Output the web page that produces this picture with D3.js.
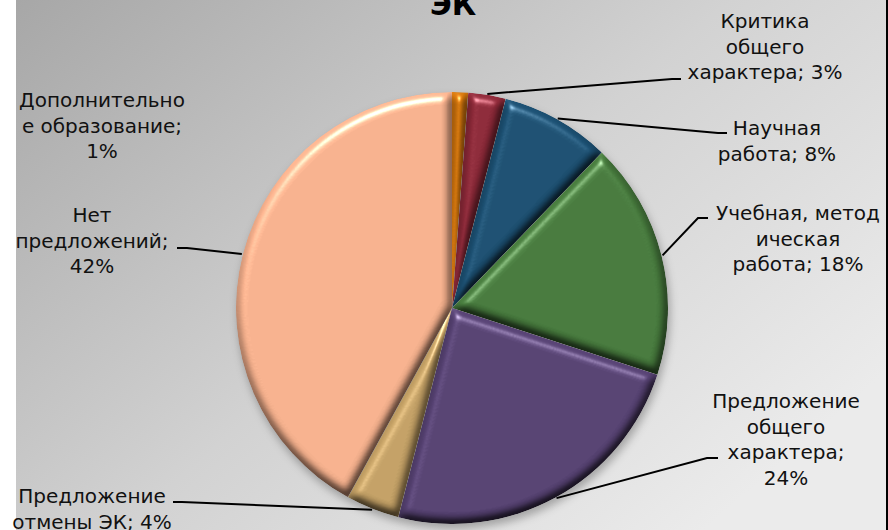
<!DOCTYPE html>
<html><head><meta charset="utf-8">
<script src="https://cdn.jsdelivr.net/npm/d3@7"></script>
<style>html,body{margin:0;padding:0;background:#fff;overflow:hidden}</style>
</head><body><svg id="chart" width="888" height="530"></svg>
<script>
// ---- data ----
const categories = ["Дополнительное образование", "Критика общего характера", "Научная работа",
  "Учебная, методическая работа", "Предложение общего характера", "Предложение отмены ЭК", "Нет предложений"];
const values = [1.2, 2.8, 8.2, 17.8, 24, 4, 42];
const labelLines = [
  ["Дополнительно", "е образование;", "1%"],
  ["Критика", "общего", "характера; 3%"],
  ["Научная", "работа; 8%"],
  ["Учебная, метод", "ическая", "работа; 18%"],
  ["Предложение", "общего", "характера;", "24%"],
  ["Предложение", "отмены ЭК; 4%"],
  ["Нет", "предложений;", "42%"]
];
const titleText = "ЭК";

// ---- layout / style ----
const W = 888, H = 530;
const cx = 452, cy = 308, R = 216;
const colors = ["#d9790d", "#912a3a", "#1c5174", "#487d3e", "#584375", "#c9a568", "#ffb792"];
const labelLayout = [
  {x: 102, y: 107, elbow: null},
  {x: 765, y: 28, elbow: [672, 79], end: [681, 79]},
  {x: 777, y: 135, elbow: [718, 133], end: [727, 133]},
  {x: 798, y: 220, elbow: [698, 218], end: [708, 218]},
  {x: 786, y: 408, elbow: [707, 458], end: [718, 458]},
  {x: 92, y: 503, elbow: [182, 502], end: [173, 502]},
  {x: 92, y: 222, elbow: [187, 248], end: [177, 248]}
];
const lineH = 25.5;

const svg = d3.select("#chart");
const defs = svg.append("defs");

const bg = defs.append("linearGradient").attr("id", "bg")
  .attr("x1", "0").attr("y1", "0").attr("x2", "1").attr("y2", "0.7");
bg.append("stop").attr("offset", "0").attr("stop-color", "#a7a7a7");
bg.append("stop").attr("offset", "0.55").attr("stop-color", "#d2d2d2");
bg.append("stop").attr("offset", "1").attr("stop-color", "#ebebeb");

const f = defs.append("filter").attr("id", "bevel")
  .attr("filterUnits", "userSpaceOnUse").attr("x", -W).attr("y", -H).attr("width", 2 * W).attr("height", 2 * H)
  .attr("color-interpolation-filters", "sRGB");
f.append("feGaussianBlur").attr("in", "SourceAlpha").attr("stdDeviation", 5).attr("result", "blur");
const dl = f.append("feDiffuseLighting").attr("in", "blur").attr("surfaceScale", 6)
  .attr("diffuseConstant", 1.1).attr("lighting-color", "#fff").attr("result", "diff");
dl.append("feDistantLight").attr("azimuth", 255).attr("elevation", 60);
f.append("feComposite").attr("in", "SourceGraphic").attr("in2", "diff").attr("operator", "arithmetic")
  .attr("k1", 1).attr("k2", 0).attr("k3", 0).attr("k4", 0).attr("result", "lit");
const sl = f.append("feSpecularLighting").attr("in", "blur").attr("surfaceScale", 6)
  .attr("specularConstant", 0.5).attr("specularExponent", 40).attr("lighting-color", "#fff").attr("result", "spec");
sl.append("feDistantLight").attr("azimuth", 255).attr("elevation", 45);
f.append("feComposite").attr("in", "spec").attr("in2", "SourceAlpha").attr("operator", "in").attr("result", "specIn");
f.append("feComposite").attr("in", "lit").attr("in2", "specIn").attr("operator", "arithmetic")
  .attr("k1", 0).attr("k2", 1).attr("k3", 1).attr("k4", 0).attr("result", "out");
f.append("feComposite").attr("in", "out").attr("in2", "SourceAlpha").attr("operator", "in");

const sh = defs.append("filter").attr("id", "shadow")
  .attr("filterUnits", "userSpaceOnUse").attr("x", -W).attr("y", -H).attr("width", 2 * W).attr("height", 2 * H);
sh.append("feGaussianBlur").attr("stdDeviation", 4);

// background
svg.append("rect").attr("x", 0).attr("y", 0).attr("width", W).attr("height", H).attr("fill", "#fff");
svg.append("rect").attr("x", 16).attr("y", 0).attr("width", W - 16).attr("height", H).attr("fill", "url(#bg)");
svg.append("rect").attr("x", 886).attr("y", 0).attr("width", 2).attr("height", H).attr("fill", "#000");

// title
svg.append("text").attr("x", 453).attr("y", 15).attr("text-anchor", "middle")
  .attr("font-family", "DejaVu Sans, Verdana, sans-serif").attr("font-weight", "bold")
  .attr("font-size", 30).attr("fill", "#000").text(titleText);

// pie
const pie = d3.pie().sort(null).value(d => d)(values);
const arc = d3.arc().innerRadius(0).outerRadius(R);
const g = svg.append("g").attr("transform", `translate(${cx},${cy})`);

g.append("circle").attr("cx", 2).attr("cy", 5).attr("r", R).attr("fill", "rgba(0,0,0,0.28)")
  .attr("filter", "url(#shadow)");

g.selectAll("path.slice").data(pie).join("path").attr("class", "slice")
  .attr("d", arc).attr("fill", (d, i) => colors[i]).attr("filter", "url(#bevel)");

// leader lines
const edge = d3.arc().innerRadius(R + 1).outerRadius(R + 1);
pie.forEach((d, i) => {
  const L = labelLayout[i];
  if (!L.elbow) return;
  const c = edge.centroid(d);
  const p0 = [cx + c[0], cy + c[1]];
  svg.append("polyline")
    .attr("points", [p0, L.elbow, L.end].map(p => p.join(",")).join(" "))
    .attr("fill", "none").attr("stroke", "#000").attr("stroke-width", 2);
});

// labels
pie.forEach((d, i) => {
  const L = labelLayout[i];
  const t = svg.append("text").attr("text-anchor", "middle")
    .attr("font-family", "DejaVu Sans, Verdana, sans-serif").attr("font-size", 20).attr("fill", "#111");
  labelLines[i].forEach((ln, k) => {
    t.append("tspan").attr("x", L.x).attr("y", L.y + k * lineH).text(ln);
  });
});
</script></body></html>
